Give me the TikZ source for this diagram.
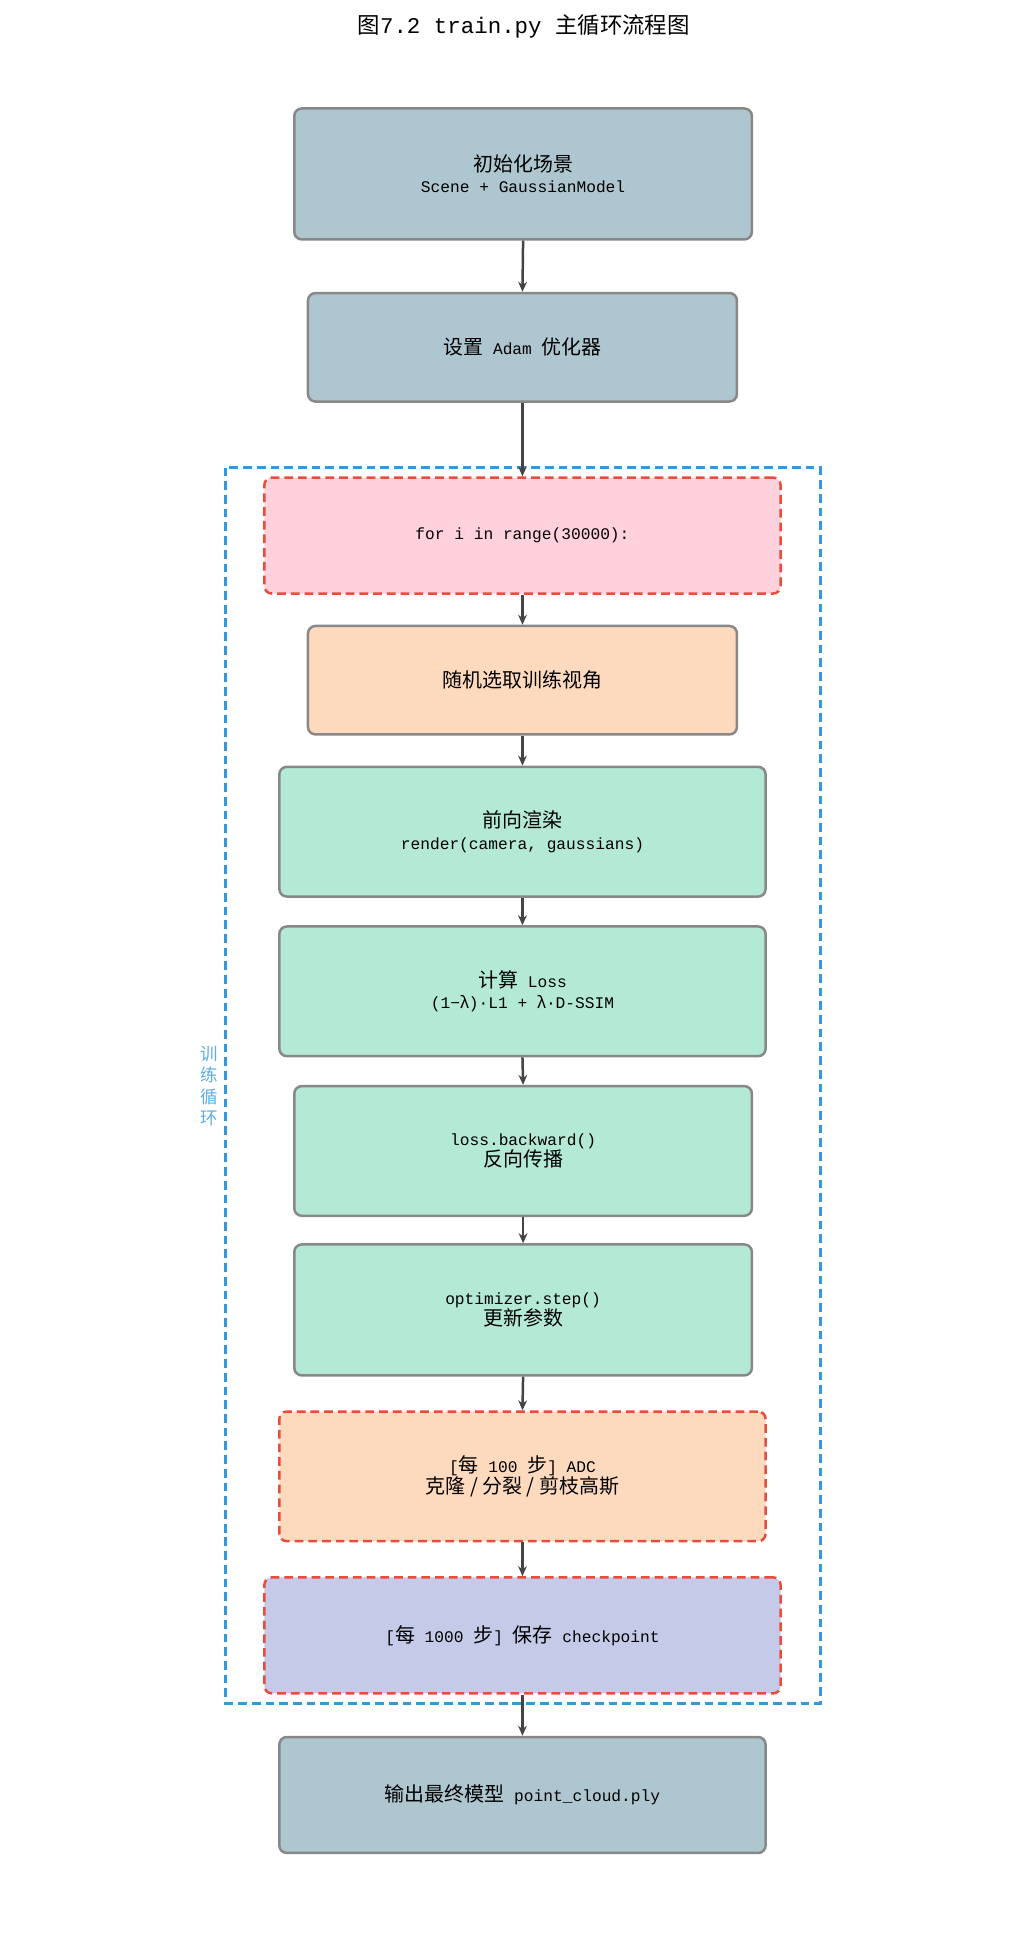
\documentclass[tikz,border=0pt]{standalone}
\usepackage{fontspec}
\setmainfont{Liberation Mono}
\newfontfamily\cjk{Noto Sans CJK SC}
\usetikzlibrary{arrows.meta}
\definecolor{gblue}{HTML}{AEC6CF}
\definecolor{gpink}{HTML}{FFD1DC}
\definecolor{gpeach}{HTML}{FDD9BE}
\definecolor{gmint}{HTML}{B4E9D6}
\definecolor{glav}{HTML}{C5CAE9}
\definecolor{gborder}{HTML}{888888}
\definecolor{gred}{HTML}{E74C3C}
\definecolor{gloop}{HTML}{3498DB}
\definecolor{garrow}{HTML}{444444}
\newcommand{\C}[1]{{\cjk #1}}
\begin{document}
\begin{tikzpicture}[x=1pt,y=-1pt,
  box/.style={draw=gborder,line width=2pt,rounded corners=6pt,align=center,inner sep=0pt,font=\fontsize{13}{17}\selectfont},
  hot/.style={draw=gred,dash pattern=on 7pt off 4pt},
  arr/.style={draw=garrow,line width=2pt,-{Stealth[length=8pt,width=7pt]}}]
\useasboundingbox (0,0) rectangle (830,1551);
\node[font=\fontsize{18}{20}\selectfont] (title) at (420,21) {\C{图}7.2  train.py \C{主循环流程图}};
\draw[gloop,line width=2pt,dash pattern=on 7pt off 4pt] (181,375) rectangle (658,1366);
\node[text=gloop!80,align=center,font=\cjk\fontsize{14}{17}\selectfont] (lbl) at (168,871) {训\\练\\循\\环};
\newcommand{\bx}[7]{\node[box,#6,minimum width={#4-#2},minimum height={#5-#3}] (#1) at ({(#2+#4)/2},{(#3+#5)/2}) {#7};}
\bx{b1}{236}{87}{603}{192}{fill=gblue}{\C{\fontsize{16}{18}\selectfont 初始化场景}\\Scene + GaussianModel}
\bx{b2}{247}{235}{591}{322}{fill=gblue}{\C{\fontsize{16}{18}\selectfont 设置} Adam \C{\fontsize{16}{18}\selectfont 优化器}}
\bx{b3}{212}{383}{626}{476}{fill=gpink,hot}{for i in range(30000):}
\bx{b4}{247}{502}{591}{589}{fill=gpeach}{\C{\fontsize{16}{18}\selectfont 随机选取训练视角}}
\bx{b5}{224}{615}{614}{719}{fill=gmint}{\C{\fontsize{16}{18}\selectfont 前向渲染}\\render(camera, gaussians)}
\bx{b6}{224}{743}{614}{847}{fill=gmint}{\C{\fontsize{16}{18}\selectfont 计算} Loss\\(1−\C{λ})·L1 + \C{λ}·D-SSIM}
\bx{b7}{236}{871}{603}{975}{fill=gmint}{loss.backward()\\\C{\fontsize{16}{18}\selectfont 反向传播}}
\bx{b8}{236}{998}{603}{1103}{fill=gmint}{optimizer.step()\\\C{\fontsize{16}{18}\selectfont 更新参数}}
\bx{b9}{224}{1132}{614}{1236}{fill=gpeach,hot}{[\C{\fontsize{16}{18}\selectfont 每} 100 \C{\fontsize{16}{18}\selectfont 步}]  ADC\\\C{\fontsize{16}{18}\selectfont 克隆 / 分裂 / 剪枝高斯}}
\bx{b10}{212}{1265}{626}{1358}{fill=glav,hot}{[\C{\fontsize{16}{18}\selectfont 每} 1000 \C{\fontsize{16}{18}\selectfont 步}]  \C{\fontsize{16}{18}\selectfont 保存} checkpoint}
\bx{b11}{224}{1393}{614}{1486}{fill=gblue}{\C{\fontsize{16}{18}\selectfont 输出最终模型}  point\_cloud.ply}
\foreach \a/\b in {b1/b2,b2/b3,b3/b4,b4/b5,b5/b6,b6/b7,b7/b8,b8/b9,b9/b10,b10/b11}
  \draw[arr] (\a.south) -- (\b.north);
\end{tikzpicture}
\end{document}
